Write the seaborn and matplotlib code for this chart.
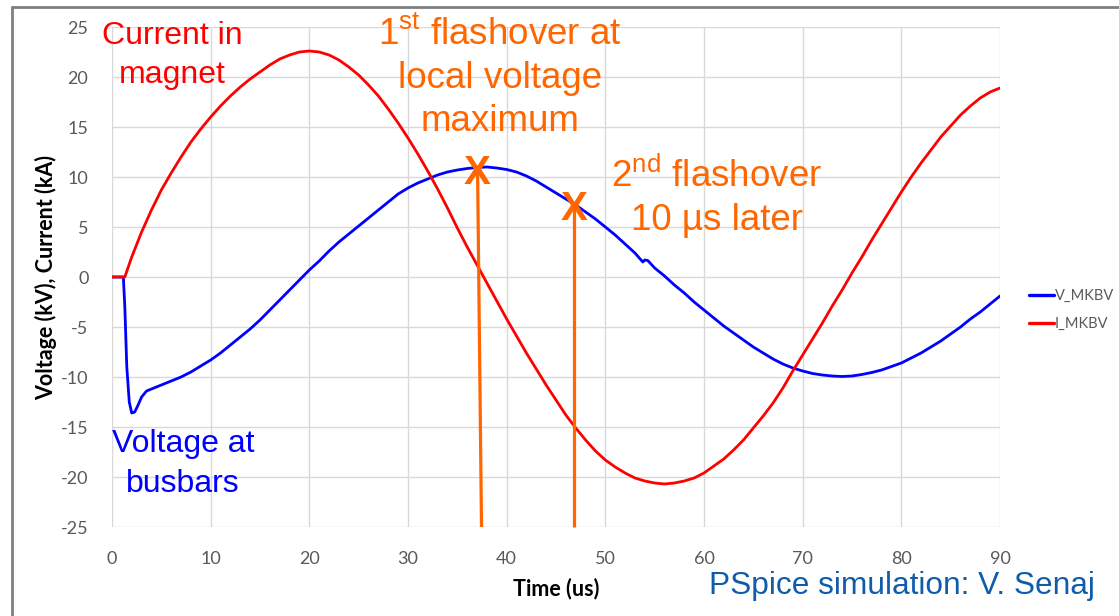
import matplotlib
matplotlib.use("Agg")
import matplotlib.pyplot as plt
from matplotlib.lines import Line2D
import pandas as pd
import seaborn as sns

# Simulated waveforms: time in us, voltage in kV, current in kA
v_time = [0, 1.15, 1.3, 1.5, 1.75, 2.0, 2.3, 2.6, 3.0, 3.5, 4, 5, 6, 7, 8, 9, 10,
          11, 12, 13, 14, 15, 16, 17, 18, 19, 20, 21, 22, 23, 24, 25, 26, 27, 28,
          29, 30, 31, 32, 33, 34, 35, 36, 37, 38, 39, 40, 41, 42, 43, 44, 45, 46,
          47, 48, 49, 50, 51, 52, 53, 53.8, 54.0, 54.3, 55, 56, 57, 58, 59, 60,
          61, 62, 63, 64, 65, 66, 67, 68, 69, 70, 71, 72, 73, 74, 75, 76, 77, 78,
          79, 80, 81, 82, 83, 84, 85, 86, 87, 88, 89, 90]
v_mkbv = [0, 0, -3.0, -9.0, -12.5, -13.6, -13.5, -12.9, -12.0, -11.4, -11.2,
          -10.8, -10.4, -10.0, -9.5, -8.9, -8.3, -7.6, -6.8, -6.0, -5.2, -4.3,
          -3.3, -2.3, -1.3, -0.3, 0.7, 1.6, 2.6, 3.5, 4.3, 5.1, 5.9, 6.7, 7.5, 8.3,
          8.9, 9.4, 9.8, 10.2, 10.5, 10.7, 10.85, 10.95, 11.0, 10.9, 10.75, 10.5,
          10.1, 9.6, 9.0, 8.4, 7.8, 7.2, 6.5, 5.8, 5.0, 4.2, 3.3, 2.4, 1.5, 1.7,
          1.65, 0.9, 0.1, -0.8, -1.6, -2.5, -3.3, -4.1, -4.9, -5.6, -6.3, -7.0,
          -7.6, -8.2, -8.7, -9.1, -9.4, -9.65, -9.8, -9.9, -9.95, -9.9, -9.75,
          -9.55, -9.3, -8.95, -8.6, -8.1, -7.6, -7.0, -6.4, -5.7, -5.0, -4.2,
          -3.5, -2.7, -1.9]

i_time = [0, 1.3, 2, 3, 4, 5, 6, 7, 8, 9, 10, 11, 12, 13, 14, 15, 16, 17, 18, 19,
          20, 21, 22, 23, 24, 25, 26, 27, 28, 29, 30, 31, 32, 33, 34, 35, 36, 37,
          38, 39, 40, 41, 42, 43, 44, 45, 46, 47, 48, 49, 50, 51, 52, 53, 54, 55,
          56, 57, 58, 59, 60, 61, 62, 63, 64, 65, 66, 67, 68, 69, 70, 71, 72, 73,
          74, 75, 76, 77, 78, 79, 80, 81, 82, 83, 84, 85, 86, 87, 88, 89, 90]
i_mkbv = [0, 0, 2.0, 4.5, 6.7, 8.7, 10.4, 12.0, 13.5, 14.8, 16.0, 17.1, 18.1,
          19.0, 19.8, 20.5, 21.2, 21.8, 22.2, 22.5, 22.6, 22.5, 22.2, 21.7, 21.0,
          20.2, 19.2, 18.1, 16.8, 15.4, 13.9, 12.3, 10.6, 8.8, 6.9, 4.9, 3.0, 1.2,
          -0.6, -2.4, -4.2, -5.9, -7.6, -9.2, -10.8, -12.3, -13.8, -15.1, -16.3,
          -17.4, -18.3, -19.0, -19.6, -20.1, -20.4, -20.6, -20.7, -20.6, -20.4,
          -20.1, -19.6, -18.9, -18.2, -17.3, -16.3, -15.1, -13.9, -12.6, -11.1,
          -9.4, -7.8, -6.2, -4.6, -2.9, -1.3, 0.4, 2.0, 3.7, 5.3, 6.9, 8.5, 10.0,
          11.4, 12.7, 14.0, 15.1, 16.2, 17.1, 17.9, 18.5, 18.9]

series_names = ["V_MKBV", "I_MKBV"]
series_colors = ["#0000FF", "#FF0000"]

# Flashover events: marker position and where the line meets the axis floor
flash_t_top = [37.05, 46.85]
flash_v_top = [10.8, 7.2]
flash_t_bottom = [37.45, 46.85]

x_ticks = list(range(0, 91, 10))
y_ticks = list(range(-25, 26, 5))

sns.set_theme(style="white")
plt.rcParams["font.family"] = ["Liberation Sans", "DejaVu Sans"]
plt.rcParams["mathtext.fontset"] = "custom"
plt.rcParams["mathtext.rm"] = "Liberation Sans"
plt.rcParams["axes.unicode_minus"] = False

df = pd.concat([
    pd.DataFrame({"Time (us)": v_time, "value": v_mkbv, "series": series_names[0]}),
    pd.DataFrame({"Time (us)": i_time, "value": i_mkbv, "series": series_names[1]}),
], ignore_index=True)

fig = plt.figure(figsize=(11.19, 6.16), dpi=100)
ax = fig.add_axes([112 / 1119, 1 - 527 / 616, 888 / 1119, 500 / 616])

sns.lineplot(data=df, x="Time (us)", y="value", hue="series",
             palette=dict(zip(series_names, series_colors)), linewidth=2.0,
             ax=ax, legend=False, sort=False, estimator=None)

ax.set_xlim(0, 90)
ax.set_ylim(-25, 25)
ax.set_xticks(x_ticks)
ax.set_yticks(y_ticks)
ax.grid(True, color="#D9D9D9", linewidth=1.0)
for s in ax.spines.values():
    s.set_visible(False)
ax.tick_params(axis="both", length=0, labelcolor="#595959", labelsize=13)
ax.tick_params(axis="x", pad=17)
ax.tick_params(axis="y", pad=17)
for lab in ax.get_xticklabels() + ax.get_yticklabels():
    lab.set_family(["Lato", "DejaVu Sans"])

ax.set_xlabel("Time (us)", fontsize=15.5, fontweight="bold", family=["Lato"],
              color="black")
ax.set_ylabel("Voltage (kV), Current (kA)", fontsize=15.5, fontweight="bold",
              family=["Lato"], color="black")
ax.xaxis.set_label_coords(0.5, -0.102)
ax.yaxis.set_label_coords(-0.062, 0.5)

# Flashover markers and vertical lines
orange = "#FF6600"
for t0, v0, t1 in zip(flash_t_top, flash_v_top, flash_t_bottom):
    ax.plot([t0, t1], [v0, -25], color=orange, linewidth=2.3, solid_capstyle="butt",
            zorder=5, clip_on=False)
    ax.text(t0, v0, "X", color=orange, fontsize=29, fontweight="bold",
            ha="center", va="center_baseline", zorder=6)

# Annotations
ax.text(6.1, 22.15, "Current in\nmagnet", color="#FF0000", fontsize=23,
        ha="center", va="center", linespacing=1.42)
ax.text(7.2, -18.7, "Voltage at\nbusbars", color="#0000FF", fontsize=23,
        ha="center", va="center", linespacing=1.45)
ax.text(39.3, 19.9, "1$^{\\mathrm{st}}$ flashover at\nlocal voltage\nmaximum",
        color=orange, fontsize=26.5, ha="center", va="center", linespacing=1.3)
ax.text(61.3, 7.95, "2$^{\\mathrm{nd}}$ flashover\n10 \u00b5s later",
        color=orange, fontsize=26.5, ha="center", va="center", linespacing=1.3)

# Legend to the right of the plot area
handles = [Line2D([0], [0], color=c, linewidth=2.4) for c in series_colors]
leg = fig.legend(handles, series_names, loc="center left",
                 bbox_to_anchor=(1016 / 1119, 1 - 310 / 616), frameon=False,
                 handlelength=1.7, handletextpad=0.05, labelspacing=0.95,
                 prop={"family": ["Lato"], "size": 10.5})
for txt in leg.get_texts():
    txt.set_color("#595959")

fig.text(1095 / 1119, 1 - 586 / 616, "PSpice simulation: V. Senaj",
         color="#0F5CAC", fontsize=22.8, ha="right", va="center")

# Frame lines along the top and left edges of the figure
fig.add_artist(Line2D([11.5 / 1119, 1.0], [1 - 6.5 / 616, 1 - 6.5 / 616],
                      transform=fig.transFigure, color="#7F7F7F", linewidth=2))
fig.add_artist(Line2D([11.5 / 1119, 11.5 / 1119], [0, 1 - 6.5 / 616],
                      transform=fig.transFigure, color="#7F7F7F", linewidth=2))

fig.savefig("out.png", dpi=100, facecolor="white")
